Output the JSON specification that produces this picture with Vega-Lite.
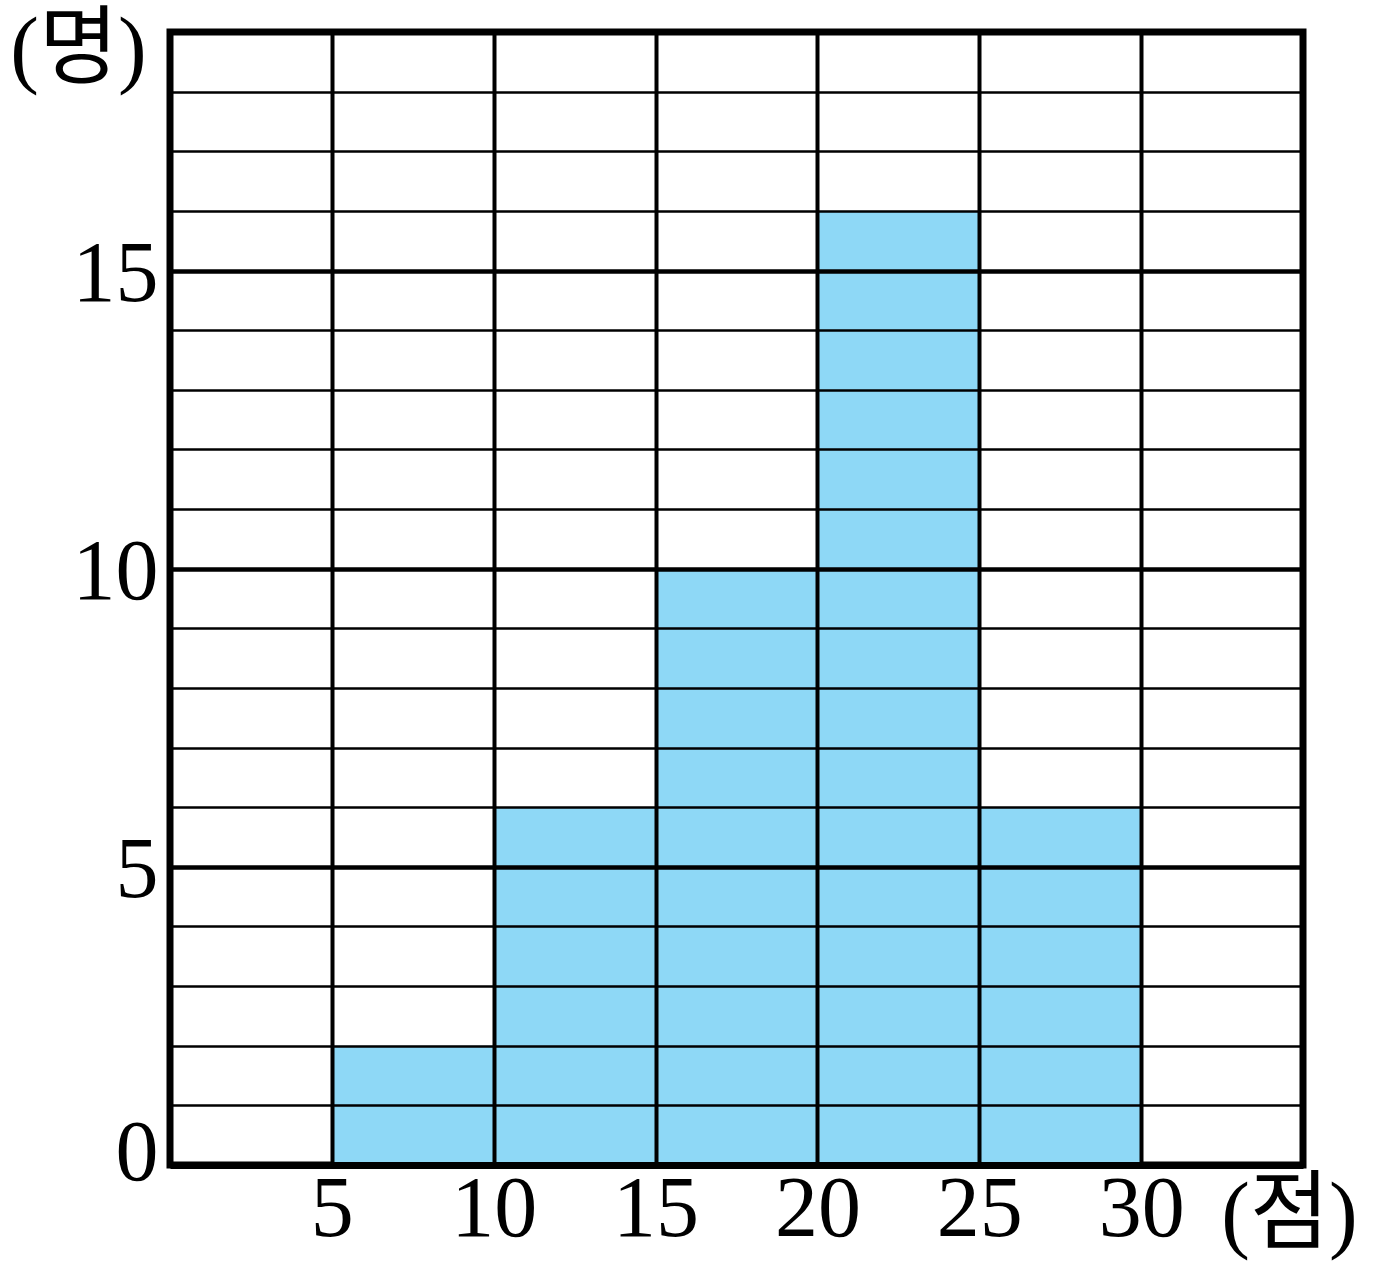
{
  "$schema": "https://vega.github.io/schema/vega-lite/v6.json",
  "width": 1133,
  "height": 1133,
  "autosize": "none",
  "padding": {"left": 170, "top": 32, "right": 73, "bottom": 102},
  "background": "white",
  "config": {"view": {"stroke": "black", "strokeWidth": 7}},
  "data": {
    "values": [
      {"start": 5, "end": 10, "count": 2},
      {"start": 10, "end": 15, "count": 6},
      {"start": 15, "end": 20, "count": 10},
      {"start": 20, "end": 25, "count": 16},
      {"start": 25, "end": 30, "count": 6}
    ]
  },
  "mark": {"type": "bar", "color": "#8ed8f6", "strokeWidth": 0},
  "encoding": {
    "x": {
      "field": "start",
      "type": "quantitative",
      "scale": {"domain": [0, 35], "nice": false, "zero": false},
      "axis": {
        "values": [5, 10, 15, 20, 25, 30],
        "grid": true,
        "gridColor": "black",
        "gridWidth": 4,
        "gridOpacity": 1,
        "ticks": false,
        "tickSize": 0,
        "domain": true,
        "domainColor": "black",
        "domainWidth": 7,
        "labelFont": "Liberation Serif",
        "labelFontSize": 86,
        "labelColor": "black",
        "labelBaseline": "middle",
        "labelPadding": 44,
        "labelFlush": false,
        "labelOverlap": false,
        "title": "(점)",
        "titleFont": "Liberation Serif, Noto Sans CJK KR",
        "titleFontSize": 86,
        "titleFontWeight": "normal",
        "titleColor": "black",
        "titleX": 1119,
        "titleY": 50,
        "titleAlign": "center",
        "titleBaseline": "middle",
        "titleAngle": 0,
        "zindex": 1
      }
    },
    "x2": {"field": "end"},
    "y": {
      "field": "count",
      "type": "quantitative",
      "scale": {"domain": [0, 19], "nice": false},
      "axis": {
        "values": [0, 1, 2, 3, 4, 5, 6, 7, 8, 9, 10, 11, 12, 13, 14, 15, 16, 17, 18, 19],
        "grid": true,
        "gridColor": "black",
        "gridOpacity": 1,
        "gridWidth": {"condition": {"test": "datum.value % 5 == 0", "value": 4.5}, "value": 2.5},
        "ticks": false,
        "tickSize": 0,
        "domain": false,
        "labelExpr": "datum.value % 5 == 0 ? datum.label : ''",
        "labelFont": "Liberation Serif",
        "labelFontSize": 86,
        "labelColor": "black",
        "labelPadding": 12,
        "labelBaseline": "middle",
        "labelOffset": {"condition": {"test": "datum.value == 0", "value": -12}, "value": 4},
        "labelFlush": false,
        "labelOverlap": false,
        "title": "(명)",
        "titleFont": "Liberation Serif, Noto Sans CJK KR",
        "titleFontSize": 86,
        "titleFontWeight": "normal",
        "titleColor": "black",
        "titleX": -92,
        "titleY": 18,
        "titleAlign": "center",
        "titleBaseline": "middle",
        "titleAngle": 0,
        "zindex": 1
      }
    },
    "y2": {"datum": 0}
  }
}
